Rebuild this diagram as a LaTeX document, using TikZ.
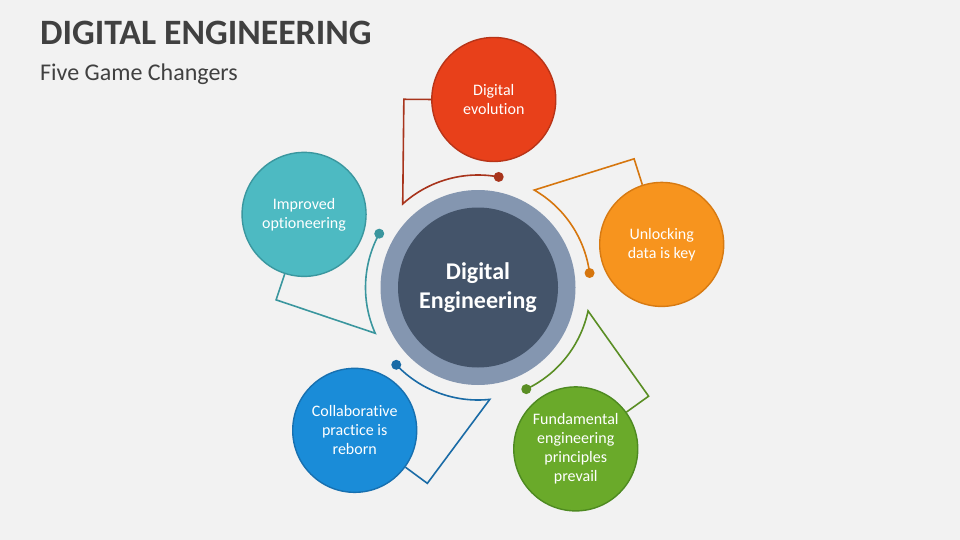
\documentclass[tikz,border=0pt]{standalone}
\usepackage{fontspec}
\setmainfont{Carlito}[Ligatures=NoCommon]
\usetikzlibrary{calc}
\definecolor{bg}{HTML}{F2F2F2}
\definecolor{titlegray}{HTML}{404040}
\definecolor{ringc}{HTML}{8496B0}
\definecolor{corec}{HTML}{44546A}
\definecolor{redF}{HTML}{E8401A}
\definecolor{redB}{HTML}{B83418}
\definecolor{redL}{HTML}{A8341C}
\definecolor{orgF}{HTML}{F7941E}
\definecolor{orgB}{HTML}{D77A12}
\definecolor{orgL}{HTML}{D6760E}
\definecolor{grnF}{HTML}{6AAA2A}
\definecolor{grnB}{HTML}{4E8A21}
\definecolor{grnL}{HTML}{5A8E24}
\definecolor{bluF}{HTML}{1A8CD8}
\definecolor{bluB}{HTML}{1770B0}
\definecolor{bluL}{HTML}{1A6BA6}
\definecolor{tealF}{HTML}{4DBAC2}
\definecolor{tealB}{HTML}{3A979F}
\definecolor{tealL}{HTML}{3A969E}
\tikzset{
  sat/.style={circle, minimum size=124pt, inner sep=0pt, line width=1.4pt,
    text=white, align=center, font=\fontsize{16}{19}\selectfont},
  dotn/.style={circle, minimum size=10pt, inner sep=0pt, draw=none},
  conn/.style={line width=1.6pt, line join=miter},
}
\begin{document}
\begin{tikzpicture}[x=1pt,y=-1pt]
\fill[bg] (0,0) rectangle (960,540);
\useasboundingbox (0,0) rectangle (960,540);
\node[anchor=base west, inner sep=0pt, text=titlegray,
  font=\fontsize{35.7}{42}\selectfont\bfseries] (title) at (40,45) {DIGITAL ENGINEERING};
\node[anchor=base west, inner sep=0pt, text=titlegray,
  font=\fontsize{24}{29}\selectfont] (subtitle) at (40,81) {Five Game Changers};
\coordinate (C) at (478,287.5);
\foreach \k/\fc/\bc/\lc/\txt in {
  0/redF/redB/redL/{Digital\\evolution},
  1/orgF/orgB/orgL/{Unlocking\\data is key},
  2/grnF/grnB/grnL/{Fundamental\\engineering\\principles\\prevail},
  3/bluF/bluB/bluL/{Collaborative\\practice is\\reborn},
  4/tealF/tealB/tealL/{Improved\\optioneering}}{
  \pgfmathsetmacro\sa{-85.2+72*\k}
  \pgfmathtruncatemacro\bm{round(-(\sa-94.5))}
  \pgfmathsetmacro\ka{-111.5+72*\k}
  \pgfmathsetmacro\as{-132+72*\k}
  \pgfmathsetmacro\ae{-79.4+72*\k}
  \node[sat, fill=\fc, draw=\bc] (s\k) at ($(C)+(\sa:188.7)$) {\txt};
  \coordinate (k\k) at ($(C)+(\ka:202.3)$);
  \coordinate (a\k) at ($(C)+(\as:112.5)$);
  \node[dotn, fill=\lc] (d\k) at ($(C)+(\ae:112.5)$) {};
  \draw[conn, draw=\lc] (s\k.\bm) -- (k\k) -- (a\k)
    arc[start angle=\as, end angle=\ae, radius=112.5];
}
\node[circle, fill=ringc, minimum size=195pt, inner sep=0pt] (ring) at (C) {};
\node[circle, fill=corec, minimum size=160pt, inner sep=0pt, text=white, align=center,
  font=\fontsize{24}{29}\selectfont\bfseries] (core) at (C) {Digital\\Engineering};
\end{tikzpicture}
\end{document}
